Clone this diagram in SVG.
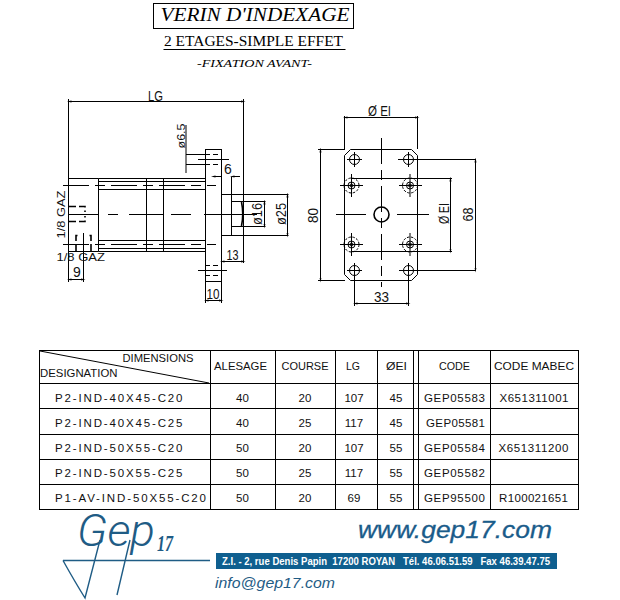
<svg xmlns="http://www.w3.org/2000/svg" width="620" height="600" viewBox="0 0 620 600">
<defs>
<marker id="tick" viewBox="-3 -3 6 6" markerWidth="5" markerHeight="5" orient="auto" markerUnits="userSpaceOnUse"><path d="M-3 -1.2L3 0L-3 1.2Z" fill="#000"/></marker>
<marker id="tickr" viewBox="-3 -3 6 6" markerWidth="5" markerHeight="5" orient="auto" markerUnits="userSpaceOnUse"><path d="M3 -1.2L-3 0L3 1.2Z" fill="#000"/></marker>
</defs>
<style>
.l{fill:none;stroke:#000;stroke-width:1}
.c{fill:none;stroke:#000;stroke-width:1;stroke-dasharray:26 6 10 6}
.d{fill:none;stroke:#000;stroke-width:1;stroke-dasharray:5 3}
.h{fill:none;stroke:#000;stroke-width:1;stroke-dasharray:2.5 1.5}
.k{fill:none;stroke:#000;stroke-width:1.6;stroke-dasharray:7 3}
.dim{fill:none;stroke:#000;stroke-width:1;marker-start:url(#tickr);marker-end:url(#tick)}
.t{font-family:"Liberation Sans",Arial,sans-serif;font-size:11.5px;fill:#111}
.v{font-family:"Liberation Sans",Arial,sans-serif;font-size:14px;fill:#111}
.m{text-anchor:middle}
.w{font-family:"Liberation Sans",Arial,sans-serif;font-weight:700;font-size:11px;fill:#fff;white-space:pre}
.b{fill:#1f5c85}
</style>
<rect width="620" height="600" fill="#fff"/>

<g id="title">
<rect class="l" x="153.5" y="3.5" width="200" height="25"/>
<text x="160.5" y="21" font-family="Liberation Serif,serif" font-style="italic" font-size="18" textLength="189" lengthAdjust="spacingAndGlyphs">VERIN D'INDEXAGE</text>
<text x="164" y="46" font-family="Liberation Serif,serif" font-size="14" textLength="179" lengthAdjust="spacingAndGlyphs">2 ETAGES-SIMPLE EFFET</text>
<path class="l" d="M163.5 49.5H345.5"/>
<text x="197" y="67" font-family="Liberation Serif,serif" font-style="italic" font-size="10" textLength="115" lengthAdjust="spacingAndGlyphs">-FIXATION AVANT-</text>
</g>

<g id="side-view">
<path class="l" d="M68.5 178.5H98.5M68.5 251.5H98.5M98.5 178.5V251.5"/>
<path class="l" d="M98.5 178.5H205.5M98.5 181.5H205.5M98.5 189.5H205.5M98.5 240.5H205.5M98.5 248.5H205.5M98.5 251.5H205.5"/>
<path class="l" d="M146.5 178.5V251.5M163.5 178.5V251.5"/>
<rect class="l" x="205.5" y="149.5" width="16" height="132"/>
<path class="l" d="M221.5 194.5H288.5M221.5 235.5H288.5M231.5 176.5V235.5M231.5 201.5H265.5M231.5 226.5H265.5"/>
<path d="M241.5 202Q244 214 241.5 226" fill="none" stroke="#000" stroke-width="1.6"/>
<path class="c" d="M63 185.5H216"/>
<path class="c" d="M63 244.5H216"/>
<path class="l" d="M68.5 214.5H98.5"/>
<path class="l" d="M108 214.5H118M129 214.5H163M171 214.5H191M204 214.5H257"/>
<path class="l" d="M186 154.5H205M186 164.5H205"/>
<path class="d" d="M205 154.5H222M205 164.5H222M205 265.5H222M205 275.5H222"/>
<path class="l" d="M198 159.5H229M198 270.5H227"/>
<path class="k" d="M69 206.5H85V212M69 221.5H85V216"/>
<path class="k" d="M76 251V235.5H80M91 251V235.5H87"/>
</g>

<g id="connectors">
<path class="l" d="M68.5 99V282M243.5 99V263M186 125V173M83.5 233V282M221.5 282V303M205.5 282V303M221.5 261V240"/>
<path class="dim" d="M69 101.5H243"/>
<path class="dim" d="M213 176.5H221M240 176.5H232"/>
<path class="dim" d="M287.5 195V235"/>
<path class="dim" d="M264.5 202V226"/>
<path class="dim" d="M222 261.5H243"/>
<path class="dim" d="M206 300.5H221"/>
<path class="dim" d="M69 279.5H83"/>
<path class="l" d="M344.5 116V149M417.5 116V149M318 149.5H345M318 280.5H345M408 159.5H476M408 270.5H476M352 178.5H452M352 251.5H452M354.5 270V306M408.5 270V306"/>
<path class="dim" d="M345 117.5H417"/>
<path class="dim" d="M320.5 150V280"/>
<path class="dim" d="M475.5 160V270"/>
<path class="dim" d="M450.5 179V251"/>
<path class="dim" d="M355 303.5H408"/>
</g>

<g id="dimension-labels">
<text class="v" x="148" y="101" textLength="15" lengthAdjust="spacingAndGlyphs">LG</text>
<text class="t" transform="translate(185 148.5) rotate(-90)" textLength="25" lengthAdjust="spacingAndGlyphs">ø6.5</text>
<text class="v" x="224" y="174">6</text>
<text class="v" transform="translate(261.5 225) rotate(-90)" textLength="22" lengthAdjust="spacingAndGlyphs">ø16</text>
<text class="v" transform="translate(285.5 225) rotate(-90)" textLength="22" lengthAdjust="spacingAndGlyphs">ø25</text>
<text class="v" x="226.5" y="260" textLength="12" lengthAdjust="spacingAndGlyphs">13</text>
<text class="v" x="206.5" y="299" textLength="13" lengthAdjust="spacingAndGlyphs">10</text>
<text class="v" x="73" y="277">9</text>
<text class="t" transform="translate(65 238.5) rotate(-90)" textLength="48" lengthAdjust="spacingAndGlyphs">1/8 GAZ</text>
<text class="t" x="56.5" y="261" textLength="48.5" lengthAdjust="spacingAndGlyphs">1/8 GAZ</text>
<text class="v" x="368" y="116" textLength="23" lengthAdjust="spacingAndGlyphs">Ø EI</text>
<text class="v" transform="translate(318 223) rotate(-90)" textLength="15" lengthAdjust="spacingAndGlyphs">80</text>
<text class="v" transform="translate(449 224) rotate(-90)" textLength="21" lengthAdjust="spacingAndGlyphs">Ø EI</text>
<text class="v" transform="translate(473 221.5) rotate(-90)" textLength="14" lengthAdjust="spacingAndGlyphs">68</text>
<text class="v" x="374" y="302" textLength="15" lengthAdjust="spacingAndGlyphs">33</text>
</g>

<g id="front-view">
<path class="l" d="M350.5 149.5H411.5L417.5 155.5V274.5L411.5 280.5H350.5L344.5 274.5V155.5Z"/>
<path class="c" d="M381.5 138V287"/>
<path class="l" d="M336 214.5H366M397 214.5H429"/>
<circle cx="381.5" cy="214.5" r="7.5" fill="none" stroke="#000" stroke-width="1.6"/>
<g id="holes-small">
<circle class="l" cx="354.5" cy="159.5" r="5"/><path class="l" d="M347 159.5H362M354.5 152V167"/>
<circle class="l" cx="408.5" cy="159.5" r="5"/><path class="l" d="M398 159.5H416M408.5 152V167"/>
<circle class="l" cx="354.5" cy="270.5" r="5"/><path class="l" d="M347 270.5H362M354.5 263V278"/>
<circle class="l" cx="408.5" cy="270.5" r="5"/><path class="l" d="M399 270.5H416M408.5 263V278"/>
</g>
<g id="holes-large">
<circle class="h" cx="351.5" cy="185.5" r="7.5"/><circle class="l" cx="351.5" cy="185.5" r="3.5"/><circle class="l" cx="351.5" cy="185.5" r="1.5"/><path class="l" d="M340 185.5H363M351.5 174V197"/>
<circle class="h" cx="410" cy="185.5" r="7.5"/><circle class="l" cx="410" cy="185.5" r="3.5"/><circle class="l" cx="410" cy="185.5" r="1.5"/><path class="l" d="M399 185.5H422M410 174V197"/>
<circle class="h" cx="351.5" cy="244.5" r="7.5"/><circle class="l" cx="351.5" cy="244.5" r="3.5"/><circle class="l" cx="351.5" cy="244.5" r="1.5"/><path class="l" d="M340 244.5H363M351.5 233V256"/>
<circle class="h" cx="410" cy="244.5" r="7.5"/><circle class="l" cx="410" cy="244.5" r="3.5"/><circle class="l" cx="410" cy="244.5" r="1.5"/><path class="l" d="M399 244.5H422M410 233V256"/>
</g>
</g>

<g id="table">
<rect class="l" x="39.5" y="350.5" width="539" height="159"/>
<path class="l" d="M39.5 383.5H578.5M39.5 408.5H578.5M39.5 434.5H578.5M39.5 459.5H578.5M39.5 484.5H578.5"/>
<path class="l" d="M210.5 350.5V509.5M275.5 350.5V509.5M335.5 350.5V509.5M377.5 350.5V509.5M413.5 350.5V509.5M418.5 350.5V509.5M490.5 350.5V509.5"/>
<path class="l" d="M40 351L209 383"/>
<text class="t" x="122.5" y="362" textLength="71" lengthAdjust="spacingAndGlyphs">DIMENSIONS</text>
<text class="t" x="40" y="377" textLength="77.5" lengthAdjust="spacingAndGlyphs">DESIGNATION</text>
<text class="t" x="214" y="369.5" textLength="53" lengthAdjust="spacingAndGlyphs">ALESAGE</text>
<text class="t" x="281.5" y="369.5" textLength="47" lengthAdjust="spacingAndGlyphs">COURSE</text>
<text class="t" x="346" y="369.5" textLength="14" lengthAdjust="spacingAndGlyphs">LG</text>
<text class="t" x="386" y="369.5" textLength="21" lengthAdjust="spacingAndGlyphs">ØEI</text>
<text class="t" x="439" y="369.5" textLength="31" lengthAdjust="spacingAndGlyphs">CODE</text>
<text class="t" x="494" y="369.5" textLength="80" lengthAdjust="spacingAndGlyphs">CODE MABEC</text>

<text class="t" x="55" y="402" textLength="127.5" lengthAdjust="spacing">P2-IND-40X45-C20</text>
<text class="t m" x="242.5" y="402">40</text><text class="t m" x="305" y="402">20</text><text class="t m" x="354" y="402">107</text><text class="t m" x="396" y="402">45</text>
<text class="t" x="424" y="402" textLength="61" lengthAdjust="spacing">GEP05583</text>
<text class="t" x="499.5" y="402" textLength="69" lengthAdjust="spacing">X651311001</text>

<text class="t" x="55" y="427" textLength="127.5" lengthAdjust="spacing">P2-IND-40X45-C25</text>
<text class="t m" x="242.5" y="427">40</text><text class="t m" x="305" y="427">25</text><text class="t m" x="354" y="427">117</text><text class="t m" x="396" y="427">45</text>
<text class="t" x="426" y="427" textLength="59" lengthAdjust="spacing">GEP05581</text>

<text class="t" x="55" y="452" textLength="127.5" lengthAdjust="spacing">P2-IND-50X55-C20</text>
<text class="t m" x="242.5" y="452">50</text><text class="t m" x="305" y="452">20</text><text class="t m" x="354" y="452">107</text><text class="t m" x="396" y="452">55</text>
<text class="t" x="424" y="452" textLength="61" lengthAdjust="spacing">GEP05584</text>
<text class="t" x="498.5" y="452" textLength="70" lengthAdjust="spacing">X651311200</text>

<text class="t" x="55" y="477" textLength="127.5" lengthAdjust="spacing">P2-IND-50X55-C25</text>
<text class="t m" x="242.5" y="477">50</text><text class="t m" x="305" y="477">25</text><text class="t m" x="354" y="477">117</text><text class="t m" x="396" y="477">55</text>
<text class="t" x="424" y="477" textLength="61" lengthAdjust="spacing">GEP05582</text>

<text class="t" x="55" y="502" textLength="151" lengthAdjust="spacing">P1-AV-IND-50X55-C20</text>
<text class="t m" x="242.5" y="502">50</text><text class="t m" x="305" y="502">20</text><text class="t m" x="354" y="502">69</text><text class="t m" x="396" y="502">55</text>
<text class="t" x="424" y="502" textLength="61" lengthAdjust="spacing">GEP95500</text>
<text class="t" x="499" y="502" textLength="69" lengthAdjust="spacing">R100021651</text>
</g>

<g id="footer">
<path d="M63 560.5H210M63 560.5Q75 582 85 598L100 540M117 595L130 540" fill="none" stroke="#1f5c85" stroke-width="1.4"/>
<text class="b" x="77" y="546" font-family="Roboto,sans-serif" font-weight="300" font-style="italic" font-size="44" textLength="78" lengthAdjust="spacingAndGlyphs">Gep</text>
<text x="157" y="551" fill="#1f5c85" font-family="Liberation Serif,serif" font-weight="700" font-style="italic" font-size="24" textLength="16" lengthAdjust="spacingAndGlyphs">17</text>
<rect x="216" y="553" width="341" height="16" fill="#0f5f8f"/>
<text class="w" x="222" y="565" textLength="328" lengthAdjust="spacingAndGlyphs">Z.I. - 2, rue Denis Papin  17200 ROYAN   Tél. 46.06.51.59   Fax 46.39.47.75</text>
<text x="358" y="538" fill="#1a5c8a" stroke="#1a5c8a" stroke-width="0.3" font-family="Liberation Sans,sans-serif" font-style="italic" font-size="24" textLength="194" lengthAdjust="spacingAndGlyphs">www.gep17.com</text>
<text x="215" y="588" fill="#1f5c85" font-family="Liberation Sans,sans-serif" font-style="italic" font-size="15" textLength="120" lengthAdjust="spacingAndGlyphs">info@gep17.com</text>
</g>
</svg>
